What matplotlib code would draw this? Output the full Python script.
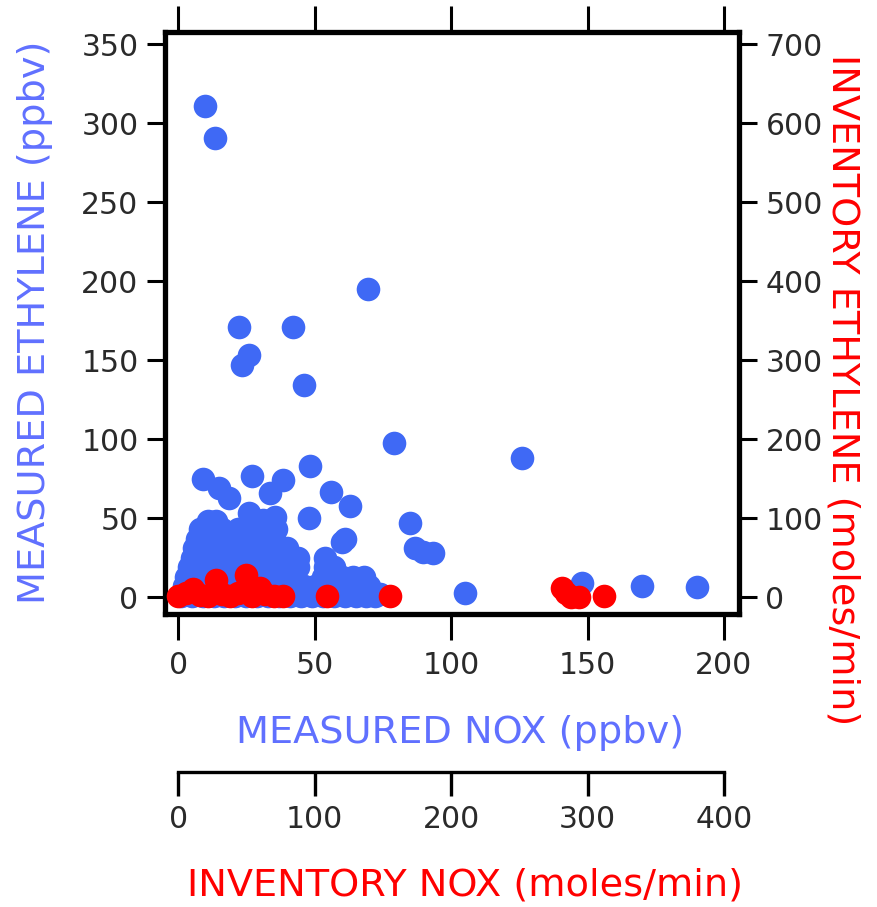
import matplotlib
matplotlib.use('Agg')
import matplotlib.pyplot as plt

# measured NOx (ppbv) vs measured ethylene (ppbv)
blue_x = [10, 13.5, 69.6, 22.5, 42, 26, 23.5, 46, 79, 126, 48.5, 9, 27, 38.5, 15, 18.5,
          33.5, 56, 63, 48, 61, 60, 85, 86.8, 89.7, 93.4, 148, 170, 190, 105, 74,
          # dense cluster
          1, 5, 9, 13, 17, 21, 25, 29, 33, 37, 41, 45, 49, 53, 57, 61, 65, 69, 72,
          2, 6, 10, 14, 18, 22, 26, 30, 34, 38, 42, 46, 50, 54, 58, 62, 66, 70,
          3, 7, 11, 15, 19, 23, 27, 31, 35, 39, 43, 53, 56, 60, 64, 68,
          4, 8, 12, 16, 20, 24, 28, 32, 36, 40, 44, 54, 57,
          5, 9, 13, 17, 21, 25, 29, 33, 37, 44, 54,
          6, 10, 14, 18, 22, 26, 30, 34, 40,
          7, 11, 15, 19, 23, 27, 31, 35,
          8, 12, 16, 22, 27, 32, 36,
          11, 14, 27, 31, 35,
          26, 35.5]
blue_y = [311, 291, 195, 171, 171, 153, 147, 134, 97.5, 88, 83, 75, 77, 74, 69, 63,
          66, 66.5, 58, 50, 37, 35, 47, 31, 28.5, 28, 9, 7, 6.5, 2.5, 2,
          1, 1, 1, 1, 1, 1, 1, 1, 1, 1, 1, 1, 1, 1, 1, 1, 1, 1, 1,
          7, 7, 7, 7, 7, 7, 7, 7, 7, 7, 7, 7, 7, 7, 7, 7, 7, 7,
          13, 13, 13, 13, 13, 13, 13, 13, 13, 13, 13, 13, 13, 13, 13, 13,
          19, 19, 19, 19, 19, 19, 19, 19, 19, 19, 19, 19, 19,
          25, 25, 25, 25, 25, 25, 25, 25, 25, 25, 25,
          31, 31, 31, 31, 31, 31, 31, 31, 31,
          37, 37, 37, 37, 37, 37, 37, 37,
          43, 43, 43, 43, 43, 43, 43,
          48, 48, 49, 49, 49,
          53, 51]

# inventory NOx (moles/min) vs inventory ethylene (moles/min)
red_x = [0, 6, 10.6, 16, 22, 28, 32, 38, 44, 50, 54, 60, 64, 70, 77, 109, 155,
         281, 284, 288, 294, 312]
red_y = [2, 5, 10, 3, 1, 22, 4, 2, 5, 28, 2, 11, 4, 1, 1, 1, 1,
         12, 5, 0, 0, 2]

x_ticks = [0, 50, 100, 150, 200]
y_ticks = [0, 50, 100, 150, 200, 250, 300, 350]
yr_ticks = [0, 100, 200, 300, 400, 500, 600, 700]
xr_ticks = [0, 100, 200, 300, 400]

BLUE = '#3f69f5'
BLUE_TXT = '#6070ff'
RED = '#ff0000'
TICK_TXT = '#2a2a2a'

plt.rcParams['font.family'] = 'DejaVu Sans'

fig = plt.figure(figsize=(8.78, 9.07), dpi=100)
rect = [0.1879, 0.3225, 0.6538, 0.6417]
ax = fig.add_axes(rect)
xlim = (-4.8, 205.5)
ylim = (-11, 357.5)

ax.plot(blue_x, blue_y, 'o', color=BLUE, ms=17, mew=0)
ax.set_xlim(xlim)
ax.set_ylim(ylim)
ax.set_xticks(x_ticks)
ax.set_yticks(y_ticks)
for s in ax.spines.values():
    s.set_linewidth(3.8)
ax.tick_params(axis='y', direction='out', length=13, width=2.2, labelsize=21.5,
               labelcolor=TICK_TXT, pad=6)
ax.tick_params(axis='x', direction='out', length=19, width=2.2, labelsize=21.5,
               labelcolor=TICK_TXT, pad=7, top=True)

# right axis (inventory ethylene) and red points on inventory scales
ax_r = ax.twinx()
ax_r.set_ylim(ylim[0] * 2, ylim[1] * 2)
ax_r.set_yticks(yr_ticks)
ax_r.tick_params(axis='y', direction='out', length=13, width=2.2, labelsize=21.5,
                 labelcolor=TICK_TXT, pad=6)
for s in ax_r.spines.values():
    s.set_visible(False)

ax_red = ax_r.twiny()
ax_red.set_xlim(xlim[0] * 2, xlim[1] * 2)
ax_red.xaxis.set_visible(False)
for s in ax_red.spines.values():
    s.set_visible(False)
ax_red.plot(red_x, red_y, 'o', color=RED, ms=17, mew=0)

# separate inventory NOx axis below
ax_b = fig.add_axes([rect[0], 0.1488, rect[2], 0.0001])
ax_b.set_xlim(xlim[0] * 2, xlim[1] * 2)
ax_b.set_xticks(xr_ticks)
ax_b.set_yticks([])
ax_b.patch.set_visible(False)
for k in ['top', 'left', 'right']:
    ax_b.spines[k].set_visible(False)
ax_b.spines['bottom'].set_bounds(0, 400)
ax_b.spines['bottom'].set_linewidth(2.4)
ax_b.tick_params(axis='x', direction='out', length=17, width=2.4, labelsize=21.5,
                 labelcolor=TICK_TXT, pad=7)

fig.text(0.04, 0.645, 'MEASURED ETHYLENE (ppbv)', rotation=90, color=BLUE_TXT,
         fontsize=27.5, ha='center', va='center')
fig.text(0.960, 0.57, 'INVENTORY ETHYLENE (moles/min)', rotation=-90, color=RED,
         fontsize=27.5, ha='center', va='center')
fig.text(0.524, 0.192, 'MEASURED NOX (ppbv)', color=BLUE_TXT, fontsize=27.5,
         ha='center', va='center')
fig.text(0.53, 0.024, 'INVENTORY NOX (moles/min)', color=RED, fontsize=27.5,
         ha='center', va='center')

fig.savefig('out.png', dpi=100)
